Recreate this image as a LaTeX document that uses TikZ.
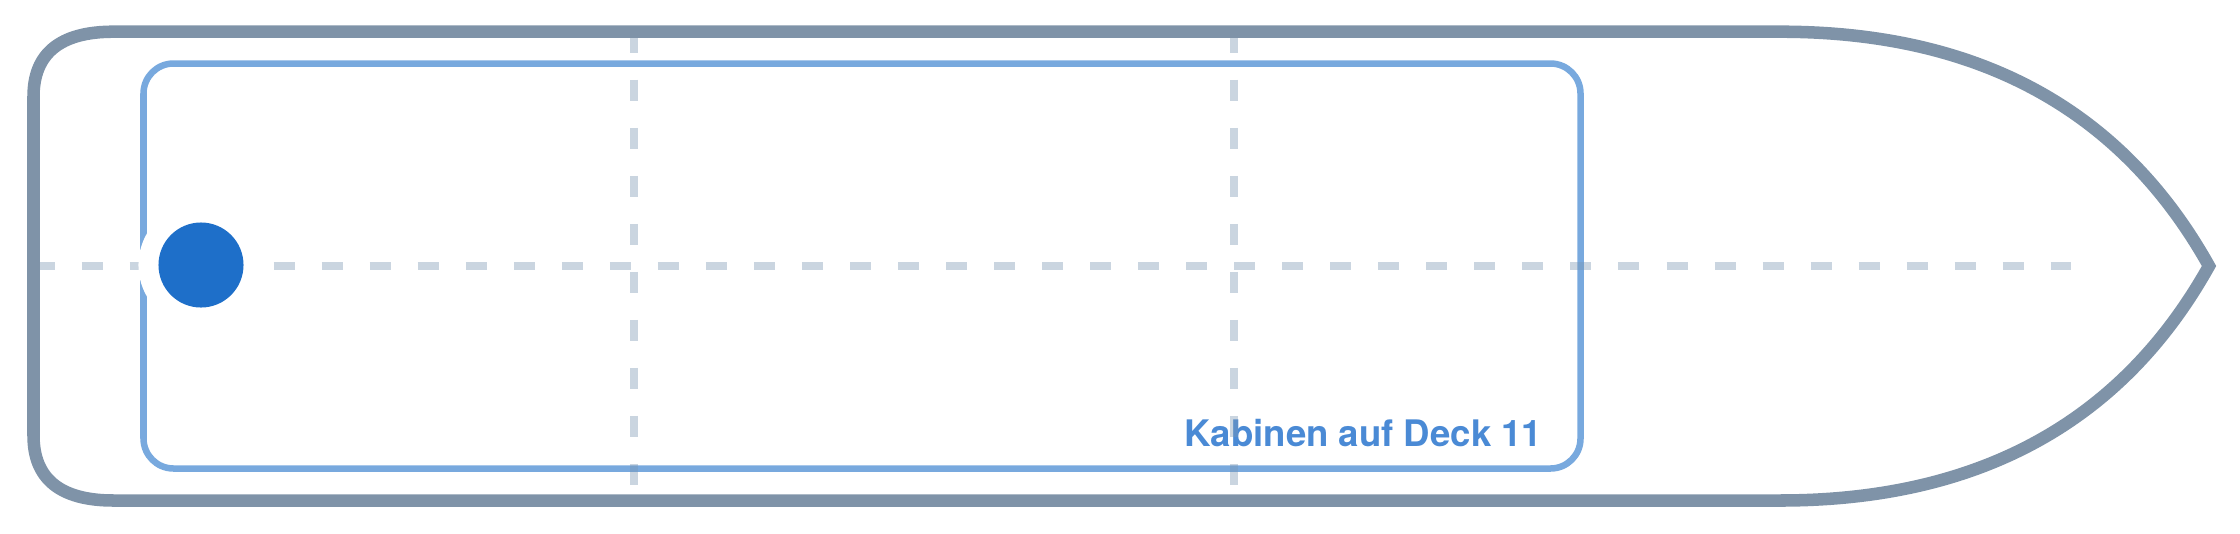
\documentclass[tikz,border=0pt]{standalone}
\usepackage{fontspec}
\setmainfont{TeX Gyre Heros}
\definecolor{hullgray}{HTML}{7F93A8}
\definecolor{cabinblue}{HTML}{78A9DE}
\definecolor{guidegray}{HTML}{7A96B2}
\definecolor{spotblue}{HTML}{1E6FC9}
\definecolor{labelblue}{HTML}{4A8AD5}
\begin{document}
\begin{tikzpicture}[x=0.01cm, y=-0.01cm,
  guide/.style={guidegray, opacity=0.4, line width=2.28pt, dash pattern=on 0.21cm off 0.27cm},
  halo/.style={circle, fill=white, minimum size=1.25cm, inner sep=0pt},
  spot/.style={circle, fill=spotblue, minimum size=0.85cm, inner sep=0pt}]
% Set the canvas size (1 unit = 1 pixel)
\useasboundingbox (0,0) rectangle (2240,533);
\def\midline{266}

% Draw the cabin block and its label
\draw[cabinblue, line width=1.85pt, rounded corners=0.3cm] (143.5,63.5) rectangle (1580.5,468.5);
\node[anchor=base east, text=labelblue, inner sep=0pt, font=\bfseries\fontsize{10.4pt}{12pt}\selectfont] (label) at (1543,446.7) {Kabinen auf Deck 11};

% Draw the guide lines
\draw[guide] (33.5,\midline) -- (2071,\midline);
\draw[guide] (633.5,31.7) -- (633.5,501);
\draw[guide] (1234,31.7) -- (1234,501);

% Draw the hull
\draw[hullgray, line width=3.56pt]
  (113.5,31.7) -- (1780,31.7)
  .. controls (1978.7,31.7) and (2121.7,109.8) .. (2209,\midline)
  .. controls (2121.7,422.2) and (1978.7,500.5) .. (1780,500.5)
  -- (113.5,500.5)
  .. controls (60.2,500.5) and (33.5,478.8) .. (33.5,435.5)
  -- (33.5,96.7)
  .. controls (33.5,53.4) and (60.2,31.7) .. cycle;

% Draw the position marker
\node[halo] (spothalo) at (201,265) {};
\node[spot] (spot) at (spothalo) {};
\end{tikzpicture}
\end{document}
